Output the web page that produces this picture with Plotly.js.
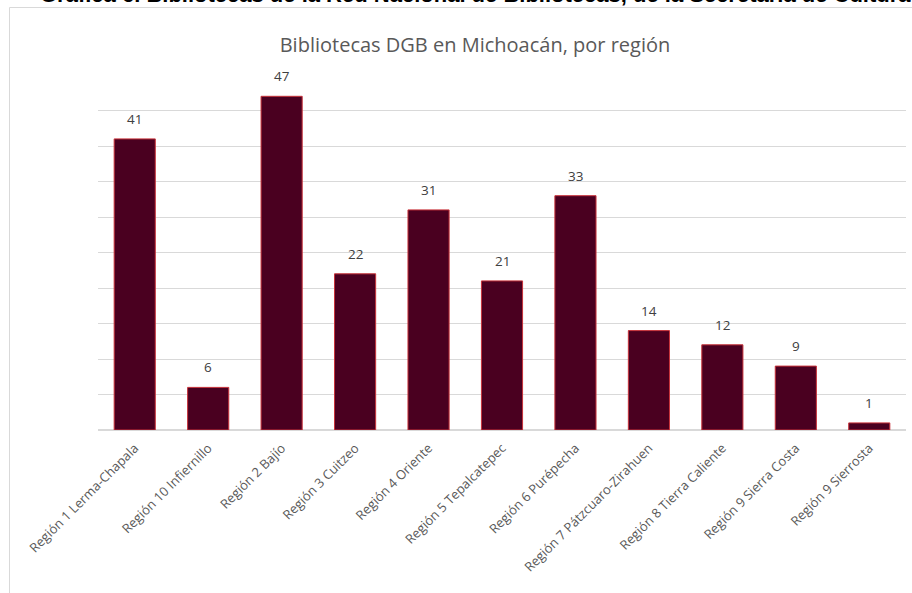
<!DOCTYPE html>
<html>
<head>
<meta charset="utf-8">
<script src="https://cdn.plot.ly/plotly-3.0.1.min.js"></script>
<style>html,body{margin:0;padding:0;background:#fff;}#chart{width:912px;height:593px;}</style>
</head>
<body>
<div id="chart"></div>
<script>
const categories = [
  "Región 1 Lerma-Chapala",
  "Región 10 Infiernillo",
  "Región 2 Bajío",
  "Región 3 Cuitzeo",
  "Región 4 Oriente",
  "Región 5 Tepalcatepec",
  "Región 6 Purépecha",
  "Región 7 Pátzcuaro-Zirahuen",
  "Región 8 Tierra Caliente",
  "Región 9 Sierra Costa",
  "Región 9 Sierrosta"
];
const values = [41, 6, 47, 22, 31, 21, 33, 14, 12, 9, 1];
const chartTitle = "Bibliotecas DGB en Michoacán, por región";
const pageCaption = "Gráfica 6. Bibliotecas de la Red Nacional de Bibliotecas, de la Secretaría de Cultura";

const L = 98, R = 906, T = 75, B = 430, W = 912, H = 593;
const pw = R - L, ph = B - T;
const px = x => (x - L) / pw;
const py = y => (B - y) / ph;

const trace = {
  type: 'bar',
  x: categories,
  y: values,
  marker: { color: '#4a0020', line: { color: '#c8323a', width: 1 } },
  hoverinfo: 'x+y'
};

const annotations = categories.map((c, i) => ({
  x: c, y: values[i], xref: 'x', yref: 'y',
  text: String(values[i]), showarrow: false,
  yanchor: 'bottom', yshift: 9,
  font: { family: 'Open Sans, sans-serif', size: 13.5, color: '#404040' }
}));
annotations.push({
  xref: 'paper', yref: 'paper', x: px(38), y: py(9),
  xanchor: 'left', yanchor: 'bottom', showarrow: false,
  text: '<b>' + pageCaption + '</b>',
  font: { family: 'Liberation Sans, Arial, sans-serif', size: 22, color: '#000' }
});

const layout = {
  width: W, height: H,
  margin: { l: L, r: W - R, t: T, b: H - B, pad: 0 },
  paper_bgcolor: '#fff', plot_bgcolor: '#fff',
  showlegend: false,
  bargap: 0.44,
  title: {
    text: chartTitle, x: px(475), xref: 'paper', xanchor: 'center',
    y: 1 - 45 / H, yanchor: 'middle',
    font: { family: 'Open Sans, sans-serif', size: 20, color: '#595959' }
  },
  xaxis: {
    type: 'category', tickangle: -45, showgrid: false, showline: false, zeroline: false,
    ticks: '', ticklabelstandoff: 7,
    tickfont: { family: 'Open Sans, sans-serif', size: 13, color: '#595959' },
    automargin: false
  },
  yaxis: {
    range: [0, 50], dtick: 5, showgrid: true, gridcolor: '#d9d9d9', gridwidth: 1,
    zeroline: true, zerolinecolor: '#d9d9d9', zerolinewidth: 1.5,
    showticklabels: false, ticks: '', showline: false, fixedrange: true
  },
  shapes: [{
    type: 'rect', xref: 'paper', yref: 'paper',
    x0: px(9.5), x1: px(930), y0: py(620), y1: py(7.5),
    line: { color: '#d9d9d9', width: 1 }, fillcolor: 'rgba(0,0,0,0)', layer: 'below'
  }],
  annotations: annotations
};

Plotly.newPlot('chart', [trace], layout, { displayModeBar: false, staticPlot: true });
</script>
</body>
</html>
